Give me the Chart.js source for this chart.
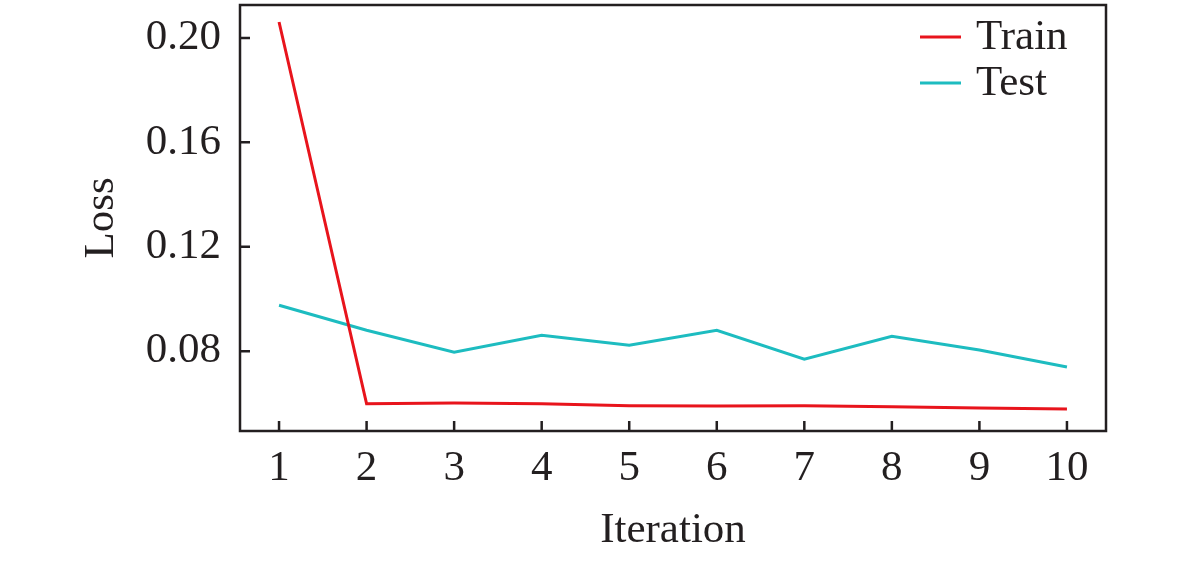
<!DOCTYPE html>
<html><head><meta charset="utf-8">
<script src="https://cdn.jsdelivr.net/npm/chart.js@4/dist/chart.umd.min.js"></script>
<style>html,body{margin:0;padding:0;background:#fff;}#wrap{width:1181px;height:562px;}</style>
</head><body><div id="wrap"><canvas id="c" width="1181" height="562"></canvas></div>
<script>
const iterations = [1,2,3,4,5,6,7,8,9,10];
const trainLoss = [0.2061,0.0598,0.0601,0.0598,0.0591,0.0590,0.0591,0.0587,0.0582,0.0578];
const testLoss  = [0.0976,0.0880,0.0796,0.0861,0.0823,0.0880,0.0769,0.0857,0.0804,0.0739];
const yTicks = [0.08,0.12,0.16,0.20];
const FONT = '"Liberation Serif", "Times New Roman", serif';
const INK = '#231f20';

const frame = {
  id:'frame',
  afterDatasetsDraw(chart){
    const {ctx, chartArea:a, scales:{x,y}} = chart;
    ctx.save();
    ctx.strokeStyle = INK; ctx.lineWidth = 2.5;
    ctx.strokeRect(a.left, a.top, a.right-a.left, a.bottom-a.top);
    ctx.beginPath();
    iterations.forEach(v=>{const px=x.getPixelForValue(v);ctx.moveTo(px,a.bottom);ctx.lineTo(px,a.bottom-10);});
    yTicks.forEach(v=>{const py=y.getPixelForValue(v);ctx.moveTo(a.left,py);ctx.lineTo(a.left+10,py);});
    ctx.stroke();
    // legend
    ctx.font = '43px ' + FONT; ctx.textBaseline='middle'; ctx.fillStyle=INK;
    chart.data.datasets.forEach((d,i)=>{
      const yy = 37 + i*46;
      ctx.strokeStyle = d.borderColor; ctx.lineWidth = 3;
      ctx.beginPath(); ctx.moveTo(920,yy); ctx.lineTo(961,yy); ctx.stroke();
      ctx.fillText(d.label, 976, yy+1);
    });
    ctx.restore();
  }
};

new Chart(document.getElementById('c'), {
  type:'line',
  data:{datasets:[
    {label:'Train', data: iterations.map((v,i)=>({x:v,y:trainLoss[i]})), borderColor:'#e8141c', borderWidth:3, pointRadius:0, tension:0},
    {label:'Test', data: iterations.map((v,i)=>({x:v,y:testLoss[i]})), borderColor:'#1dbcc0', borderWidth:3, pointRadius:0, tension:0}
  ]},
  plugins:[frame],
  options:{
    responsive:false, animation:false, devicePixelRatio:1,
    layout:{padding:{top:5,right:75,left:0,bottom:0}},
    plugins:{legend:{display:false}, tooltip:{enabled:false}},
    scales:{
      x:{type:'linear', min:0.554, max:10.446,
        afterBuildTicks(s){s.ticks = iterations.map(v=>({value:v}));},
        afterFit(s){s.height = 131; s.paddingLeft=0; s.paddingRight=0;},
        grid:{display:false, drawTicks:false}, border:{display:false},
        ticks:{padding:12, color:INK, font:{family:FONT,size:43}, maxRotation:0, autoSkip:false, callback:v=>String(v)},
        title:{display:true, text:'Iteration', color:INK, font:{family:FONT,size:43}, padding:{top:5,bottom:5}}
      },
      y:{min:0.0494, max:0.2126,
        afterBuildTicks(s){s.ticks = yTicks.map(v=>({value:v}));},
        afterFit(s){s.width = 240; s.paddingTop=0; s.paddingBottom=0;},
        grid:{display:false, drawTicks:false}, border:{display:false},
        ticks:{padding:19, color:INK, font:{family:FONT,size:43}, callback:v=>v.toFixed(2)},
        title:{display:true, text:'Loss', color:INK, font:{family:FONT,size:43}, padding:{top:76,bottom:76}}
      }
    }
  }
});
</script></body></html>
